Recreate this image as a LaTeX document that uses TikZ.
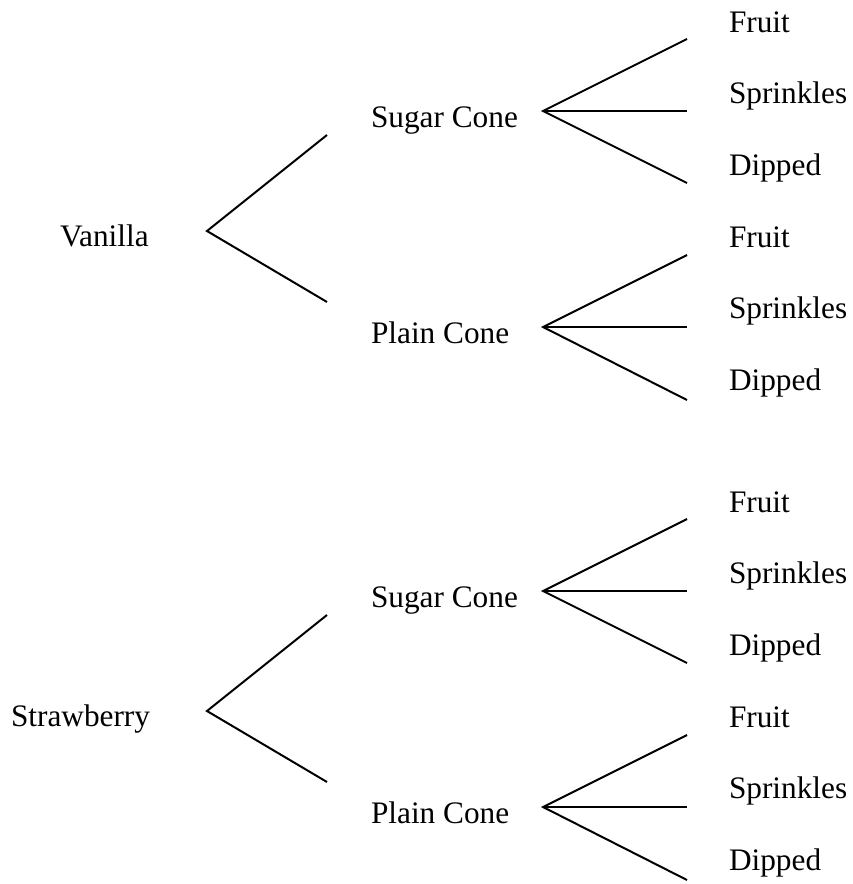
\documentclass[tikz,border=0pt]{standalone}
\usepackage{fontspec}
\setmainfont{Liberation Serif}
\begin{document}
\begin{tikzpicture}[x=1pt,y=-1pt,
  lbl/.style={anchor=base west,inner sep=0pt,outer sep=0pt,font=\fontsize{31.3}{36}\selectfont},
  edge/.style={draw=black,line width=2pt}]
\useasboundingbox (0,0) rectangle (852,884);
\foreach \dy/\flav/\fx/\tag in {0/Vanilla/60/a, 480/Strawberry/11/b}{
  \begin{scope}[yshift=-\dy pt]
    \node[lbl] (flav\tag) at (\fx,246) {\flav};
    \coordinate (v\tag) at (207,231);
    \coordinate (s\tag) at (327,135);
    \coordinate (p\tag) at (327,302);
    \node[lbl] (sugar\tag) at (371,127) {Sugar Cone};
    \node[lbl] (plain\tag) at (371,343) {Plain Cone};
    \coordinate (sv\tag) at (543,111);
    \coordinate (pv\tag) at (543,327);
    \coordinate (sf\tag) at (687,39);
    \coordinate (ss\tag) at (687,111);
    \coordinate (sd\tag) at (687,183);
    \coordinate (pf\tag) at (687,255);
    \coordinate (ps\tag) at (687,327);
    \coordinate (pd\tag) at (687,400);
    \node[lbl] (fa\tag) at (729,32) {Fruit};
    \node[lbl] (sa\tag) at (729,103) {Sprinkles};
    \node[lbl] (da\tag) at (729,175) {Dipped};
    \node[lbl] (fb\tag) at (729,247) {Fruit};
    \node[lbl] (sb\tag) at (729,318) {Sprinkles};
    \node[lbl] (db\tag) at (729,390) {Dipped};
    \draw[edge] (s\tag) -- (v\tag) -- (p\tag);
    \draw[edge] (sf\tag) -- (sv\tag) -- (sd\tag);
    \draw[edge] (sv\tag) -- (ss\tag);
    \draw[edge] (pf\tag) -- (pv\tag) -- (pd\tag);
    \draw[edge] (pv\tag) -- (ps\tag);
  \end{scope}
}
\end{tikzpicture}
\end{document}
